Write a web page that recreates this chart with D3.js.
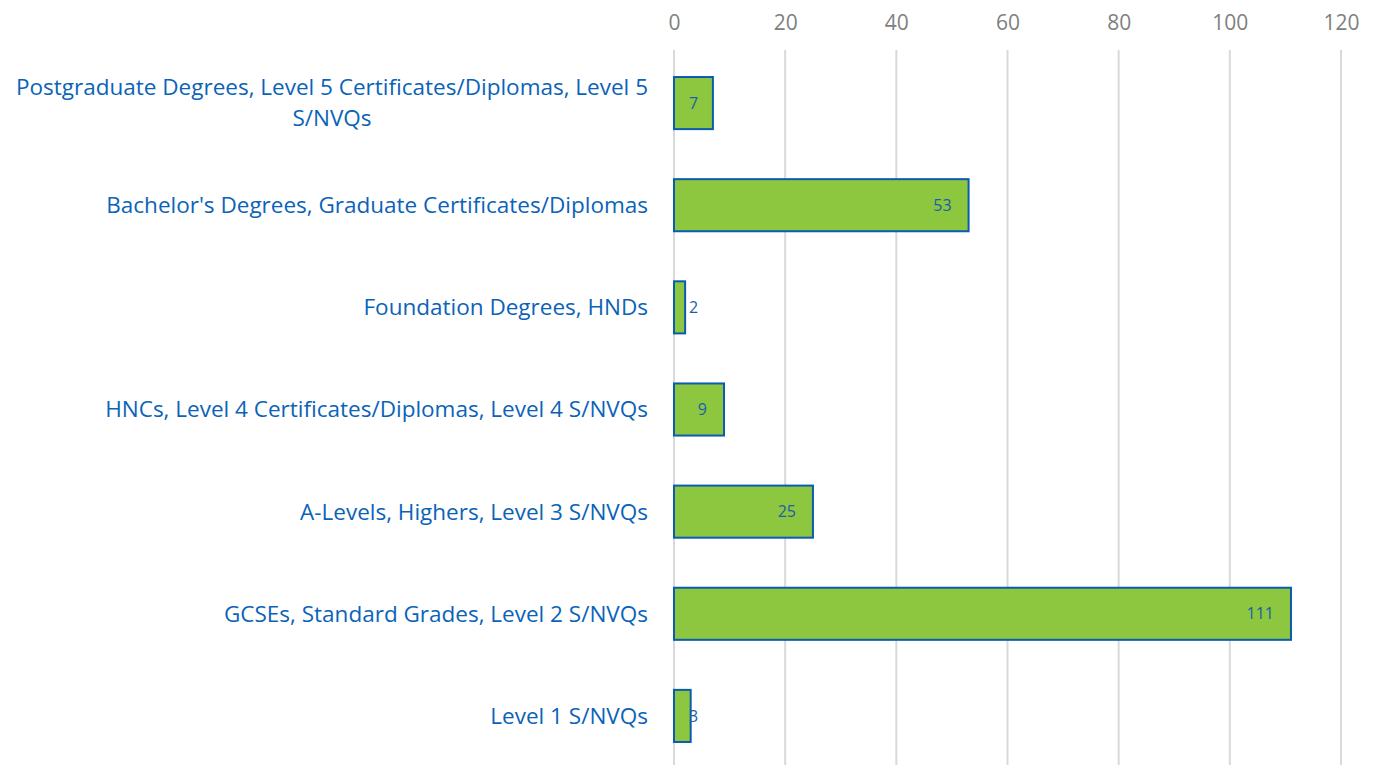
<!DOCTYPE html>
<html><head><meta charset="utf-8">
<script src="https://cdn.jsdelivr.net/npm/d3@7"></script>
<style>html,body{margin:0;padding:0;background:#fff;} svg{display:block;}</style>
</head><body>
<svg id="chart" width="1380" height="765"></svg>
<script>
const categories = [
  "Postgraduate Degrees, Level 5 Certificates/Diplomas, Level 5 S/NVQs",
  "Bachelor's Degrees, Graduate Certificates/Diplomas",
  "Foundation Degrees, HNDs",
  "HNCs, Level 4 Certificates/Diplomas, Level 4 S/NVQs",
  "A-Levels, Highers, Level 3 S/NVQs",
  "GCSEs, Standard Grades, Level 2 S/NVQs",
  "Level 1 S/NVQs"
];
const values = [7, 53, 2, 9, 25, 111, 3];
const tickValues = [0, 20, 40, 60, 80, 100, 120];

const svg = d3.select("#chart");
const font = "'Open Sans', 'Noto Sans', sans-serif";
const x = d3.scaleLinear().domain([0, 120]).range([674, 1341]);
const y = d3.scaleBand().domain(categories).range([52, 767]).paddingInner(0.49).paddingOuter(0.245);

// gridlines
svg.append("g").selectAll("line").data(tickValues).join("line")
  .attr("x1", d => x(d)).attr("x2", d => x(d))
  .attr("y1", 50).attr("y2", 765)
  .attr("stroke", "#d9d9d9").attr("stroke-width", 2);

// top axis labels
const xAxis = d3.axisTop(x).tickValues(tickValues).tickSize(0).tickPadding(0);
const gx = svg.append("g").attr("transform", "translate(0,30)").call(xAxis);
gx.select(".domain").remove();
gx.selectAll("text").attr("font-family", font).attr("font-size", 21).attr("fill", "#808080");

// bars
svg.append("g").selectAll("rect").data(values).join("rect")
  .attr("x", x(0)).attr("y", (d, i) => y(categories[i]))
  .attr("width", d => x(d) - x(0)).attr("height", y.bandwidth())
  .attr("fill", "#8dc63f").attr("stroke", "#0a5cb0").attr("stroke-width", 2);

// value labels
const vl = svg.append("g").selectAll("text").data(values).join("text")
  .attr("font-family", font).attr("font-size", 16).attr("fill", "#1a5fa8")
  .attr("y", (d, i) => y(categories[i]) + y.bandwidth() / 2)
  .attr("dy", "0.35em")
  .text(d => d);
vl.each(function(d) {
  const w = this.getComputedTextLength();
  let xr = x(d) - 17;
  let xl = Math.max(xr - w, 689);
  d3.select(this).attr("x", xl);
});

// category labels with wrapping
const maxW = 645;
const g = svg.append("g");
categories.forEach((c, i) => {
  const cy = y(c) + y.bandwidth() / 2;
  const t = g.append("text").attr("font-family", font).attr("font-size", 22.5).attr("fill", "#0b63b8");
  const words = c.split(" ");
  let lines = [], line = [];
  const probe = t.append("tspan");
  words.forEach(w => {
    line.push(w);
    probe.text(line.join(" "));
    if (probe.node().getComputedTextLength() > maxW && line.length > 1) {
      line.pop(); lines.push(line.join(" ")); line = [w];
    }
  });
  lines.push(line.join(" "));
  probe.remove();
  const lh = 31;
  let widths = lines.map(l => { const s = t.append("tspan").text(l); const w = s.node().getComputedTextLength(); s.remove(); return w; });
  const bw = Math.max(...widths);
  const right = 648;
  const cx = right - bw / 2;
  lines.forEach((l, k) => {
    t.append("tspan").attr("x", cx).attr("text-anchor", "middle")
      .attr("y", cy + (k - (lines.length - 1) / 2) * lh).attr("dy", "0.35em").text(l);
  });
  t.attr("text-anchor", "middle");
});
</script>
</body></html>
